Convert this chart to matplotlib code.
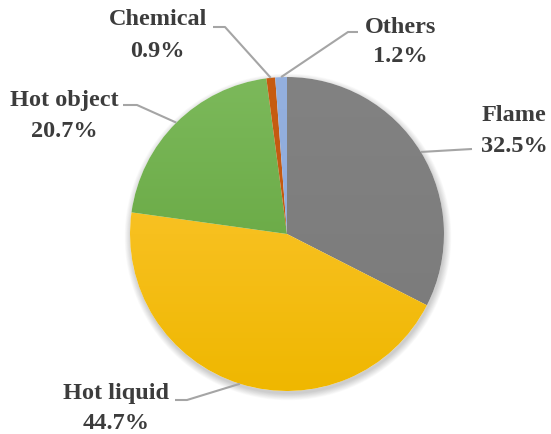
import numpy as np
import matplotlib
matplotlib.use("Agg")
import matplotlib.pyplot as plt
from matplotlib.patches import Circle

# ---- data ----
categories = ["Flame", "Hot liquid", "Hot object", "Chemical", "Others"]
shares = [32.5, 44.7, 20.7, 0.9, 1.2]

# ---- styles / layout ----
light_cols = ["#828282", "#ffc93c", "#7cb95b", "#c75c12", "#94b0df"]
dark_cols = ["#7a7a7a", "#efb700", "#5d9f36", "#c0560f", "#8aa6d8"]
W, H = 551, 435
CX, CY, R = 287, H - 235, 157
TEXT_COLOR = "#3c3c3c"
LINE_COLOR = "#a5a5a5"
FS = 17.5
# label text centres (x, y from top) for the name line and percent line,
# and leader line: point where the horizontal part ends near the text, elbow point
label_pos = {
    "Flame": ((514, 114), (514, 145), (472, 150), (472, 150)),
    "Hot liquid": ((116, 392), (116, 422), (175, 401), (187, 401)),
    "Hot object": ((64, 99), (64, 130), (123, 106), (137, 106)),
    "Chemical": ((158, 18), (157, 50), (213, 28), (225, 28)),
    "Others": ((401, 26), (400, 55), (358, 33), (348, 33)),
}

fig = plt.figure(figsize=(W / 100, H / 100), dpi=100)
ax = fig.add_axes([0, 0, 1, 1])

# soft shadow
for i in range(10):
    ax.add_patch(Circle((CX + 1, CY - 3), R + i * 0.7, facecolor="black",
                        edgecolor="none", alpha=0.018, zorder=0))
ax.add_patch(Circle((CX, CY), R, facecolor="white", edgecolor="none", zorder=0.5))

wedges, _ = ax.pie(shares, startangle=90, counterclock=False, center=(CX, CY),
                   radius=R, colors=light_cols,
                   wedgeprops=dict(linewidth=0, edgecolor="none"), frame=True)

# vertical gradient fills clipped to each wedge
t = np.linspace(0, 1, 256)[:, None]
for w, lc, dc in zip(wedges, light_cols, dark_cols):
    l = np.array(matplotlib.colors.to_rgb(lc))
    d = np.array(matplotlib.colors.to_rgb(dc))
    img = (d[None, :] * (1 - t) + l[None, :] * t)[:, None, :]
    im = ax.imshow(img, extent=[CX - R, CX + R, CY - R, CY + R], origin="lower",
                   aspect="auto", interpolation="bilinear", zorder=2)
    im.set_clip_path(w)
    w.set_facecolor("none")

# labels and leader lines
for w, name, val in zip(wedges, categories, shares):
    (nx, ny), (px_, py_), (hx, hy), (ex, ey) = label_pos[name]
    mid = np.deg2rad((w.theta1 + w.theta2) / 2)
    tx, ty = CX + R * np.cos(mid), CY + R * np.sin(mid)
    ax.plot([hx, ex, tx], [H - hy, H - ey, ty], color=LINE_COLOR, lw=1.5,
            zorder=3, solid_capstyle="butt")
    ax.text(nx, H - ny - 7, name, ha="center", va="baseline", fontsize=FS,
            fontweight="bold", family="Liberation Serif", color=TEXT_COLOR)
    ax.text(px_, H - py_ - 7, f"{val:.1f}%", ha="center", va="baseline",
            fontsize=FS, fontweight="bold", family="Liberation Serif",
            color=TEXT_COLOR)

ax.set_xlim(0, W)
ax.set_ylim(0, H)
ax.set_aspect("auto")
ax.axis("off")
fig.savefig("out.png", dpi=100, facecolor="white")
